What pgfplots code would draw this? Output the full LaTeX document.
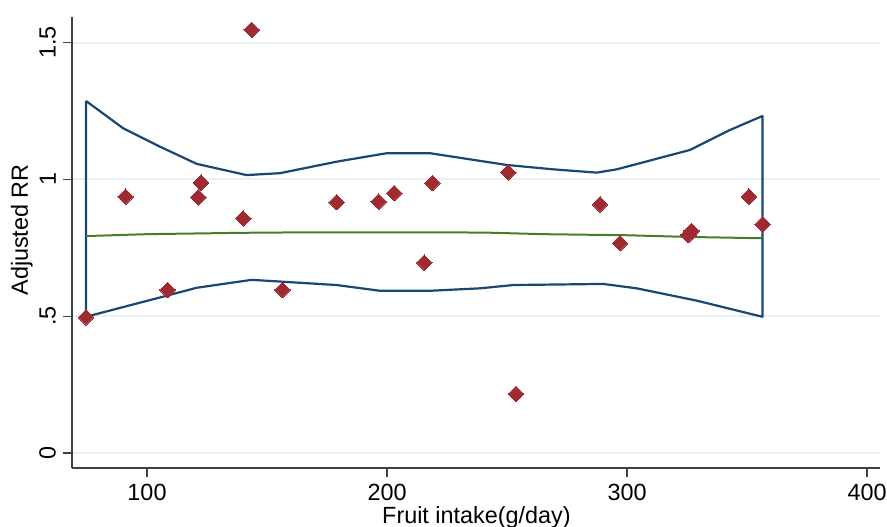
\documentclass[border=0pt]{standalone}
\usepackage{pgfplots}
\pgfplotsset{compat=1.18}
\usepackage{fontspec}
\setmainfont{Liberation Sans}
\definecolor{ci}{RGB}{26,71,111}
\definecolor{fitc}{RGB}{72,125,40}
\definecolor{ptc}{RGB}{160,42,50}
\definecolor{gridc}{RGB}{232,240,243}
\begin{document}
\begin{tikzpicture}
\begin{axis}[
 scale only axis, width=404pt, height=225.5pt,
 xmin=68.75, xmax=405.4, ymin=-0.055, ymax=1.594,
 axis x line*=bottom, axis y line*=left,
 axis line style={black!75, line width=0.7pt, -},
 xtick={100,200,300,400}, ytick={0,0.5,1,1.5}, yticklabels={0,.5,1,1.5},
 tick align=outside, major tick length=4.5pt, tick style={black!75, line width=0.7pt},
 ymajorgrids, grid style={gridc, line width=1pt},
 font=\fontsize{11.7}{14}\selectfont,
 ticklabel style={font=\fontsize{11.7}{14}\selectfont},
 /pgf/number format/assume math mode=true,
 yticklabel style={rotate=90, anchor=south},
 xlabel={Fruit intake(g/day)}, ylabel={Adjusted RR},
 xlabel style={at={(axis description cs:0.5006,-0.122)}, anchor=base},
 ylabel style={at={(axis description cs:-0.062,0.528)}, anchor=center},
]
% confidence band (upper, right edge, lower, left edge)
\addplot[ci, line width=1.1pt, line join=round, mark=none] coordinates {
 (74.6,1.287) (90.1,1.187) (105.4,1.12) (120.7,1.057) (141.5,1.016) (155.4,1.023)
 (179,1.065) (199.9,1.096) (217.9,1.096) (249.9,1.053) (269.3,1.037) (287.4,1.025)
 (295.7,1.037) (326.25,1.108) (342.9,1.181) (356.4,1.232)
 (356.4,0.498) (329,0.557) (304,0.602) (290.1,0.618) (252.6,0.614) (238.75,0.602)
 (217.9,0.593) (197.1,0.593) (179,0.614) (156.8,0.626) (143.6,0.633) (120.7,0.604)
 (108.2,0.575) (74.6,0.498) (74.6,1.287)
};
% fitted line
\addplot[fitc, line width=1pt, mark=none] coordinates {
 (74.6,0.793) (100,0.800) (140,0.805) (170,0.807) (240,0.806) (265,0.800)
 (300,0.796) (325,0.790) (356.4,0.785)
};
% studies
\addplot[color=ptc, only marks, mark=square*, mark size=2.75pt,
 mark options={rotate=45, solid, fill=ptc, draw=ptc, line width=0pt}] coordinates {
 (74.6,0.496) (91.1,0.937) (108.6,0.596) (121.4,0.935) (122.5,0.988) (140.1,0.858)
 (143.6,1.547) (156.4,0.596) (179.0,0.917) (196.5,0.919) (203.0,0.950) (215.5,0.696)
 (218.9,0.987) (250.5,1.026) (253.75,0.216) (288.75,0.909) (297.1,0.767)
 (325.5,0.797) (326.9,0.812) (350.8,0.937) (356.5,0.836)
};
\end{axis}
\pgfresetboundingbox
\useasboundingbox (-36pt,-29pt) rectangle (407.5pt,234pt);
\end{tikzpicture}
\end{document}
